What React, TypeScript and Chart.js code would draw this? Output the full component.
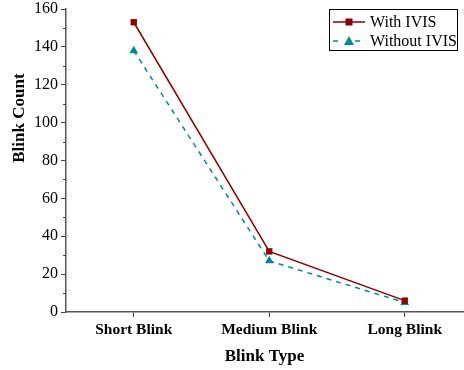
import React, { useEffect, useRef } from "react";
import { Chart, registerables } from "chart.js";

Chart.register(...registerables);

const categories = ["Short Blink", "Medium Blink", "Long Blink"];
const withIVIS = [153, 32, 6];
const withoutIVIS = [138, 27, 5];
const seriesNames = ["With IVIS", "Without IVIS"];
const yTicks = [0, 20, 40, 60, 80, 100, 120, 140, 160];
const yTitle = "Blink Count";
const xTitle = "Blink Type";

const RED = "#8b0000";
const TEAL = "#008b8b";
const FONT = "'Liberation Serif', 'Times New Roman', serif";

const minorTicksPlugin = {
  id: "minorTicks",
  afterDraw(chart: any) {
    const ctx = chart.ctx;
    const y = chart.scales.y;
    ctx.save();
    ctx.strokeStyle = "#444";
    ctx.lineWidth = 1;
    for (let i = 0; i < yTicks.length - 1; i++) {
      const v = (yTicks[i] + yTicks[i + 1]) / 2;
      const py = Math.round(y.getPixelForValue(v)) + 0.5;
      ctx.beginPath();
      ctx.moveTo(y.right - 3, py);
      ctx.lineTo(y.right, py);
      ctx.stroke();
    }
    // y-axis title
    const area = chart.chartArea;
    ctx.fillStyle = "#000";
    ctx.font = `bold 17px ${FONT}`;
    ctx.textAlign = "center";
    ctx.textBaseline = "middle";
    ctx.translate(y.left + 20, area.top + (area.bottom - area.top) * 0.36);
    ctx.rotate(-Math.PI / 2);
    ctx.fillText(yTitle, 0, 0);
    ctx.restore();
  },
};

const legendPlugin = {
  id: "customLegend",
  afterDraw(chart: any) {
    const ctx = chart.ctx;
    const area = chart.chartArea;
    const right = area.right - 6;
    const left = right - 128;
    const top = area.top;
    const h = 41;
    ctx.save();
    ctx.strokeStyle = "#000";
    ctx.lineWidth = 1;
    ctx.strokeRect(Math.round(left) + 0.5, Math.round(top) + 0.5, 128, h);
    const rows = [
      { label: seriesNames[0], color: RED, dash: [], style: "rect" },
      { label: seriesNames[1], color: TEAL, dash: [5, 6], style: "triangle" },
    ];
    rows.forEach((r, i) => {
      const cy = top + 13 + i * 19;
      const x0 = left + 4;
      const x1 = left + 36;
      const mx = (x0 + x1) / 2;
      ctx.strokeStyle = r.color;
      ctx.lineWidth = 1.5;
      ctx.setLineDash(r.dash);
      ctx.beginPath();
      ctx.moveTo(x0, cy);
      ctx.lineTo(x1, cy);
      ctx.stroke();
      ctx.setLineDash([]);
      ctx.fillStyle = r.color;
      if (r.style === "rect") {
        ctx.fillRect(mx - 3.5, cy - 3.5, 7, 7);
      } else {
        ctx.fillStyle = "#fff";
        ctx.fillRect(mx - 6, cy - 2, 12, 4);
        ctx.fillStyle = r.color;
        ctx.beginPath();
        ctx.moveTo(mx, cy - 5);
        ctx.lineTo(mx + 5, cy + 4);
        ctx.lineTo(mx - 5, cy + 4);
        ctx.closePath();
        ctx.fill();
      }
      ctx.fillStyle = "#000";
      ctx.font = `16px ${FONT}`;
      ctx.textBaseline = "middle";
      ctx.textAlign = "left";
      ctx.fillText(r.label, x1 + 5, cy + 1);
    });
    ctx.restore();
  },
};

export default function App() {
  const ref = useRef<HTMLCanvasElement>(null);
  useEffect(() => {
    document.body.style.margin = "0";
    const toPts = (arr: number[]) => arr.map((v, i) => ({ x: i, y: v }));
    const chart = new Chart(ref.current!, {
      type: "line",
      data: {
        datasets: [
          {
            label: seriesNames[0],
            data: toPts(withIVIS),
            borderColor: RED,
            backgroundColor: RED,
            borderWidth: 1.5,
            pointStyle: "rect",
            pointRadius: 4.5,
            pointBorderWidth: 0,
            fill: false,
          },
          {
            label: seriesNames[1],
            data: toPts(withoutIVIS),
            borderColor: TEAL,
            backgroundColor: TEAL,
            borderWidth: 1.5,
            borderDash: [5, 5],
            pointStyle: "triangle",
            pointRadius: 5,
            pointBorderWidth: 0,
            fill: false,
          },
        ],
      },
      options: {
        animation: false,
        responsive: false,
        maintainAspectRatio: false,
        layout: { autoPadding: false, padding: { left: 0, top: 9, right: 1, bottom: 0 } },
        plugins: { legend: { display: false }, tooltip: { enabled: false } },
        scales: {
          x: {
            type: "linear",
            min: -0.5,
            max: 2.43,
            afterBuildTicks: (s: any) => {
              s.ticks = categories.map((_, i) => ({ value: i }));
            },
            afterFit: (s: any) => {
              s.height = 58;
              s.paddingLeft = 0;
              s.paddingRight = 0;
            },
            ticks: {
              callback: (v: any) => categories[v as number] ?? "",
              color: "#000",
              font: { family: FONT, size: 15.5, weight: "bold" },
              padding: 4,
              maxRotation: 0,
              autoSkip: false,
            },
            grid: {
              drawOnChartArea: false,
              drawTicks: true,
              tickLength: 5,
              color: "#444",
            },
            border: { color: "#555", width: 1.5 },
            title: {
              display: true,
              text: xTitle,
              color: "#000",
              font: { family: FONT, size: 17, weight: "bold" },
              padding: { top: 2, bottom: 3 },
            },
          },
          y: {
            min: 0,
            max: 160,
            afterBuildTicks: (s: any) => {
              s.ticks = yTicks.map((v) => ({ value: v }));
            },
            afterFit: (s: any) => {
              s.width = 66;
              s.paddingTop = 0;
              s.paddingBottom = 0;
            },
            ticks: {
              color: "#000",
              font: { family: FONT, size: 16 },
              padding: 3,
            },
            grid: {
              drawOnChartArea: false,
              drawTicks: true,
              tickLength: 5,
              color: "#444",
            },
            border: { color: "#555", width: 1.5 },
          },
        },
      },
      plugins: [minorTicksPlugin, legendPlugin],
    } as any);
    return () => chart.destroy();
  }, []);
  return <canvas ref={ref} width={464} height={370} style={{ display: "block" }} />;
}
